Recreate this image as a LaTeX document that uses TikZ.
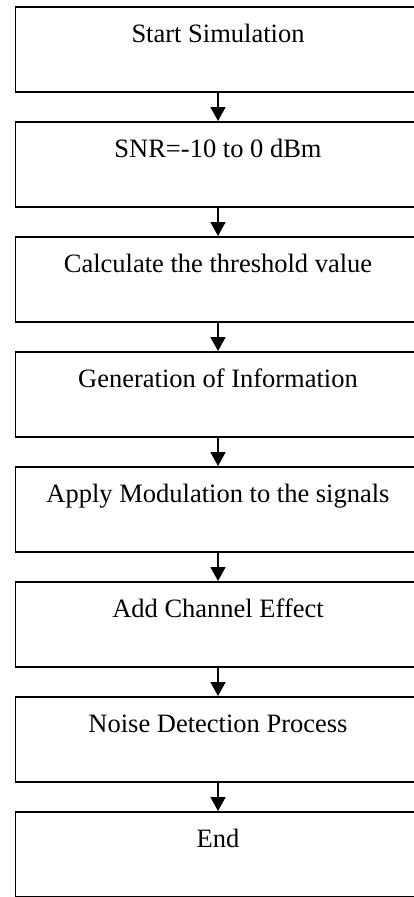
\documentclass[tikz,border=0pt]{standalone}
\usepackage{fontspec}
\setmainfont{Liberation Serif}
\usetikzlibrary{arrows.meta}
\tikzset{
  stagebox/.style={draw=black, line width=1.6pt, inner sep=0pt,
    minimum width=405pt, text height=35.7pt, text depth=49.3pt,
    font=\fontsize{26.5pt}{31pt}\selectfont, anchor=north},
  flow/.style={line width=1.8pt, -{Triangle[width=15pt,length=14pt]}}
}
\begin{document}
\begin{tikzpicture}[x=1pt,y=-1pt]
  \useasboundingbox (0,0) rectangle (414,897);
  \clip (0,0) rectangle (414,897);
  \fill[white] (0,0) rectangle (414,897);
  % flowchart stages, one every 115pt
  \node[stagebox] (s1) at (218,6)   {Start Simulation};
  \node[stagebox] (s2) at (218,121) {SNR=-10 to 0 dBm};
  \node[stagebox] (s3) at (218,236) {Calculate the threshold value};
  \node[stagebox] (s4) at (218,351) {Generation of Information};
  \node[stagebox] (s5) at (218,466) {Apply Modulation to the signals};
  \node[stagebox] (s6) at (218,581) {Add Channel Effect};
  \node[stagebox] (s7) at (218,696) {Noise Detection Process};
  \node[stagebox] (s8) at (218,811) {End};
  % connectors
  \foreach \a/\b in {s1/s2,s2/s3,s3/s4,s4/s5,s5/s6,s6/s7,s7/s8}
    \draw[flow] (\a.south) -- (\b.north);
\end{tikzpicture}
\end{document}
